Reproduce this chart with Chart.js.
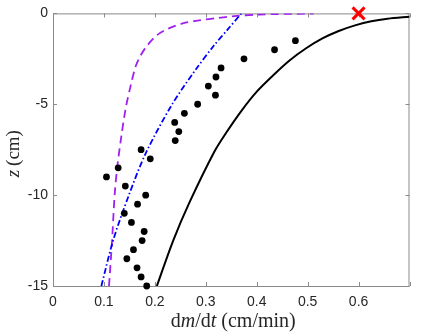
<!DOCTYPE html>
<html>
<head>
<meta charset="utf-8">
<script src="https://cdn.jsdelivr.net/npm/chart.js@4.4.1/dist/chart.umd.min.js"></script>
<style>
  body { margin: 0; background: #fff; }
  #wrap { width: 421px; height: 333px; }
</style>
</head>
<body>
<div id="wrap"><canvas id="chart" width="421" height="333"></canvas></div>
<script>
// axis ticks
const xTicks = [0, 0.1, 0.2, 0.3, 0.4, 0.5, 0.6, 0.7];
const yTicks = [-15, -10, -5, 0];

// measured points (black dots)
const obsZ = [-15, -14.5, -14, -13.5, -13, -12.5, -12, -11.5, -11, -10.5, -10, -9.5, -9, -8.5,
              -8, -7.5, -7, -6.5, -6, -5.5, -5, -4.5, -4, -3.5, -3, -2.5, -2, -1.5];
const obsRate = [0.184, 0.173, 0.165, 0.145, 0.158, 0.175, 0.179, 0.154, 0.140, 0.166, 0.182, 0.142, 0.105, 0.128,
                 0.191, 0.173, 0.240, 0.247, 0.239, 0.258, 0.284, 0.319, 0.305, 0.320, 0.330, 0.375, 0.435, 0.476];

// black solid model
const solidZ =    [-15, -12.5, -10.4, -7.6, -6.61, -5.36, -4.28, -3.39, -2.58, -1.92, -1.38, -0.97, -0.66, -0.43, -0.29, -0.18];
const solidRate = [0.204, 0.236, 0.268, 0.317, 0.339, 0.370, 0.401, 0.433, 0.465, 0.497, 0.529, 0.561, 0.593, 0.625, 0.657, 0.700];

// purple dashed model
const dashZ =    [-15, -12.5, -10, -8.5, -6.8, -5.18, -3.92, -2.94, -2.31, -1.77, -1.2, -0.84, -0.55, -0.38, -0.25, -0.16, -0.06, -0.01];
const dashRate = [0.110, 0.116, 0.121, 0.126, 0.134, 0.143, 0.153, 0.162, 0.172, 0.185, 0.204, 0.226, 0.255, 0.287, 0.325, 0.352, 0.405, 0.512];

// blue dash-dot model
const dotDashZ =    [-15, -12.5, -10, -7.7, -5, -3.1, -1.77, -0.85, 0];
const dotDashRate = [0.095, 0.118, 0.149, 0.182, 0.234, 0.280, 0.316, 0.344, 0.370];

// surface marker
const surfZ = [0];
const surfRate = [0.6];

function pts(xs, ys) {
    return xs.map((x, i) => ({ x: x, y: ys[i] }));
}

const tickFont = { family: 'Liberation Sans', size: 14 };
const axisGrey = '#8a8a8a';
const serif = 'px "Liberation Serif", serif';

// draw a label made of pieces, some italic, centred at (cx, cy)
function richText(ctx, parts, cx, cy, size) {
    let total = 0;
    parts.forEach(p => {
        ctx.font = (p.i ? 'italic ' : '') + size + serif;
        p.w = ctx.measureText(p.t).width + (p.gap || 0);
        total += p.w;
    });
    let x = cx - total / 2;
    ctx.textBaseline = 'middle';
    ctx.textAlign = 'left';
    parts.forEach(p => {
        ctx.font = (p.i ? 'italic ' : '') + size + serif;
        ctx.fillText(p.t, x, cy);
        x += p.w;
    });
}

const framePlugin = {
    id: 'frame',
    beforeDatasetsDraw(chart) {
        const ctx = chart.ctx;
        const a = chart.chartArea;
        const xs = chart.scales.x, ys = chart.scales.y;
        ctx.save();
        ctx.strokeStyle = axisGrey;
        ctx.lineWidth = 1;
        ctx.strokeRect(a.left + 0.5, a.top + 0.5, a.right - a.left - 1, a.bottom - a.top);
        ctx.beginPath();
        xTicks.forEach(v => {
            const px = Math.round(xs.getPixelForValue(v)) + 0.5;
            ctx.moveTo(px, a.bottom); ctx.lineTo(px, a.bottom - 4);
            ctx.moveTo(px, a.top); ctx.lineTo(px, a.top + 4);
        });
        yTicks.forEach(v => {
            const py = Math.round(ys.getPixelForValue(v)) + 0.5;
            ctx.moveTo(a.left, py); ctx.lineTo(a.left + 4, py);
            ctx.moveTo(a.right, py); ctx.lineTo(a.right - 4, py);
        });
        ctx.stroke();
        ctx.restore();
    },
    afterDraw(chart) {
        const ctx = chart.ctx;
        const a = chart.chartArea;
        ctx.save();
        ctx.fillStyle = '#262626';
        richText(ctx, [{ t: 'd' }, { t: 'm', i: true }, { t: '/d' }, { t: 't', i: true, gap: 5 }, { t: '(cm/min)' }],
            (a.left + a.right) / 2 + 2, 322, 20);
        ctx.translate(14, (a.top + a.bottom) / 2 + 4);
        ctx.rotate(-Math.PI / 2);
        richText(ctx, [{ t: 'z', i: true, gap: 4 }, { t: '(cm)' }], 0, 0, 19);
        ctx.restore();
    }
};

const lineBase = { showLine: true, pointRadius: 0, tension: 0.3, capBezierPoints: false };

new Chart(document.getElementById('chart').getContext('2d'), {
    type: 'scatter',
    data: {
        datasets: [
            {
                label: 'surface',
                data: pts(surfRate, surfZ),
                pointStyle: 'crossRot',
                pointRadius: 8.5,
                borderColor: '#ff0000',
                borderWidth: 3,
                clip: false,
                order: 0
            },
            {
                label: 'measured',
                data: pts(obsRate, obsZ),
                pointRadius: 3.4,
                backgroundColor: '#000',
                borderColor: '#000',
                borderWidth: 0,
                clip: false,
                order: 1
            },
            Object.assign({
                label: 'model 1',
                data: pts(solidRate, solidZ),
                borderColor: '#000',
                borderWidth: 2,
                order: 2
            }, lineBase),
            Object.assign({
                label: 'model 2',
                data: pts(dotDashRate, dotDashZ),
                borderColor: '#0000ff',
                borderWidth: 1.8,
                borderDash: [6, 2.5, 1.5, 2.5],
                order: 3
            }, lineBase),
            Object.assign({
                label: 'model 3',
                data: pts(dashRate, dashZ),
                borderColor: '#a020f0',
                borderWidth: 1.8,
                borderDash: [8, 5],
                order: 4
            }, lineBase)
        ]
    },
    options: {
        responsive: false,
        animation: false,
        layout: { padding: { left: 0, right: 2, top: 7, bottom: 0 } },
        plugins: { legend: { display: false }, tooltip: { enabled: false } },
        scales: {
            x: {
                type: 'linear',
                min: 0, max: 0.7,
                afterBuildTicks: axis => { axis.ticks = xTicks.map(v => ({ value: v })); },
                afterFit: axis => { axis.height = 47; },
                ticks: {
                    font: tickFont, color: '#262626', padding: 8, maxRotation: 0,
                    callback: v => (v > 0.65 ? '' : String(Math.round(v * 10) / 10))
                },
                grid: { display: true, drawOnChartArea: false, drawTicks: false },
                border: { display: false }
            },
            y: {
                type: 'linear',
                min: -15, max: 0,
                afterBuildTicks: axis => { axis.ticks = yTicks.map(v => ({ value: v })); },
                afterFit: axis => { axis.width = 53; },
                ticks: { font: tickFont, color: '#262626', padding: 5 },
                grid: { display: true, drawOnChartArea: false, drawTicks: false },
                border: { display: false }
            }
        }
    },
    plugins: [framePlugin]
});
</script>
</body>
</html>
